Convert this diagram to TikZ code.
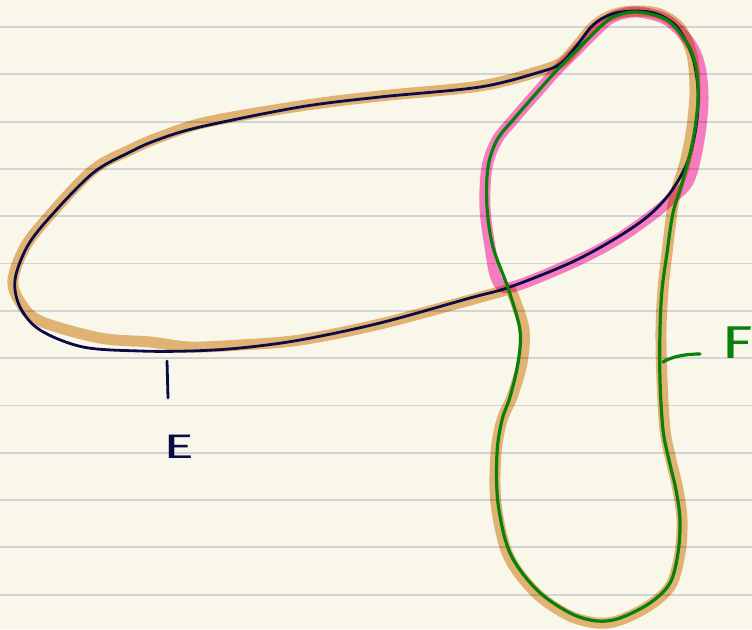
\documentclass[tikz,border=0pt]{standalone}
\usepackage{fontspec}
\setsansfont{Fira Sans}

\definecolor{paper}{HTML}{F8F7E9}
\definecolor{ruling}{HTML}{D4D4D4}
\definecolor{navyE}{HTML}{0B0B48}
\definecolor{greenF}{HTML}{0A800A}
\definecolor{hlorange}{HTML}{E7B87E}
\definecolor{hlpink}{HTML}{FC81D2}

\begin{document}
\begin{tikzpicture}[x=1pt, y=-1pt, line join=round,
    hl/.style={line width=11pt, line cap=round, blend mode=multiply},
    curveE/.style={navyE, line width=2.8pt},
    curveF/.style={greenF, line width=3.2pt},
    lbl/.style={font=\sffamily\fontsize{#1}{#1}\selectfont}]
  \useasboundingbox (0,0) rectangle (752,629);
  % --- paper ---
  \fill[paper] (0,0) rectangle (752,629);
  \foreach \k in {0,...,12}
    \draw[ruling, line width=1.8pt] (0,27+47.3*\k) -- (752,27+47.3*\k);
  % --- highlights ---
  \draw[hl, hlorange] plot[smooth, tension=0.55] coordinates {
    (510,289) (470,300) (380,324) (300,340) (240,345) (190,347) (150,342)
    (100,338) (40,321) (20,302) (13,280) (25,247) (50,215) (93,170)
    (130,150) (160,137) (207,122) (300,106) (380,96) (480,86) (540,71)
    (562,62) (577,46) (595,25) (615,14) (637,11) (660,14) (680,28)
    (692,55) (695,90) (692,127) (685,163) (674,200) (667,253) (663,290)
    (661,330) (662,380) (665,430) (671,460) (678,490) (682,520) (680,553)
    (671,585) (650,605) (620,620) (597,623) (568,615) (535,592) (508,555)
    (496,503) (496,453) (502,420) (512,397) (522,363) (524,330) (515,300)
    (510,289)};
  \draw[hl, hlpink] plot[smooth cycle, tension=0.55] coordinates {
    (497,280) (490,247) (485,207) (487,167) (497,140) (513,120) (533,97)
    (557,70) (577,50) (597,30) (613,17) (637,12) (667,20) (690,43)
    (700,67) (703,100) (699,140) (689,180) (670,200) (647,219) (613,242)
    (570,264) (512,287)};
  % --- loop E ---
  \draw[curveE] plot[smooth cycle, tension=0.55] coordinates {
    (540,72) (560,64) (575,48) (593,25) (612,14) (635,11) (657,14)
    (677,27) (692,55) (698,90) (696,127) (687,163) (670,193) (647,217)
    (613,240) (570,263) (510,287) (470,298) (380,323) (300,340) (240,348)
    (190,351) (140,351) (83,347) (40,330) (20,307) (15,280) (27,247)
    (50,217) (93,173) (130,152) (157,140) (200,127) (300,107) (380,97)
    (480,87)};
  % --- loop F ---
  \draw[curveF] plot[smooth cycle, tension=0.55] coordinates {
    (637,12) (667,20) (687,43) (696,67) (698,100) (693,140) (683,180)
    (673,213) (667,253) (662,290) (660,330) (660,380) (663,430) (669,460)
    (676,490) (680,520) (678,553) (670,583) (650,603) (620,618) (597,621)
    (570,613) (537,590) (510,553) (498,503) (497,453) (502,420) (510,397)
    (518,363) (520,330) (508,288) (493,247) (487,207) (488,167) (497,140)
    (513,120) (533,97) (557,70) (577,50) (597,30) (613,17)};
  % --- labels ---
  \coordinate (eTop) at (167,361);
  \coordinate (eBot) at (168,398);
  \draw[curveE, line cap=round] (eTop) -- (eBot);
  \node[lbl=34, navyE] (labE) at (179,447) {\scalebox{1.7}[1]{E}};
  \coordinate (fFoot) at (663,362);
  \coordinate (fEnd) at (700,354);
  \draw[curveF, line cap=round] (fFoot) .. controls (671,357) and (684,354) .. (fEnd);
  \node[lbl=46, greenF] (labF) at (737,343) {\scalebox{1.4}[1]{F}};
\end{tikzpicture}
\end{document}
